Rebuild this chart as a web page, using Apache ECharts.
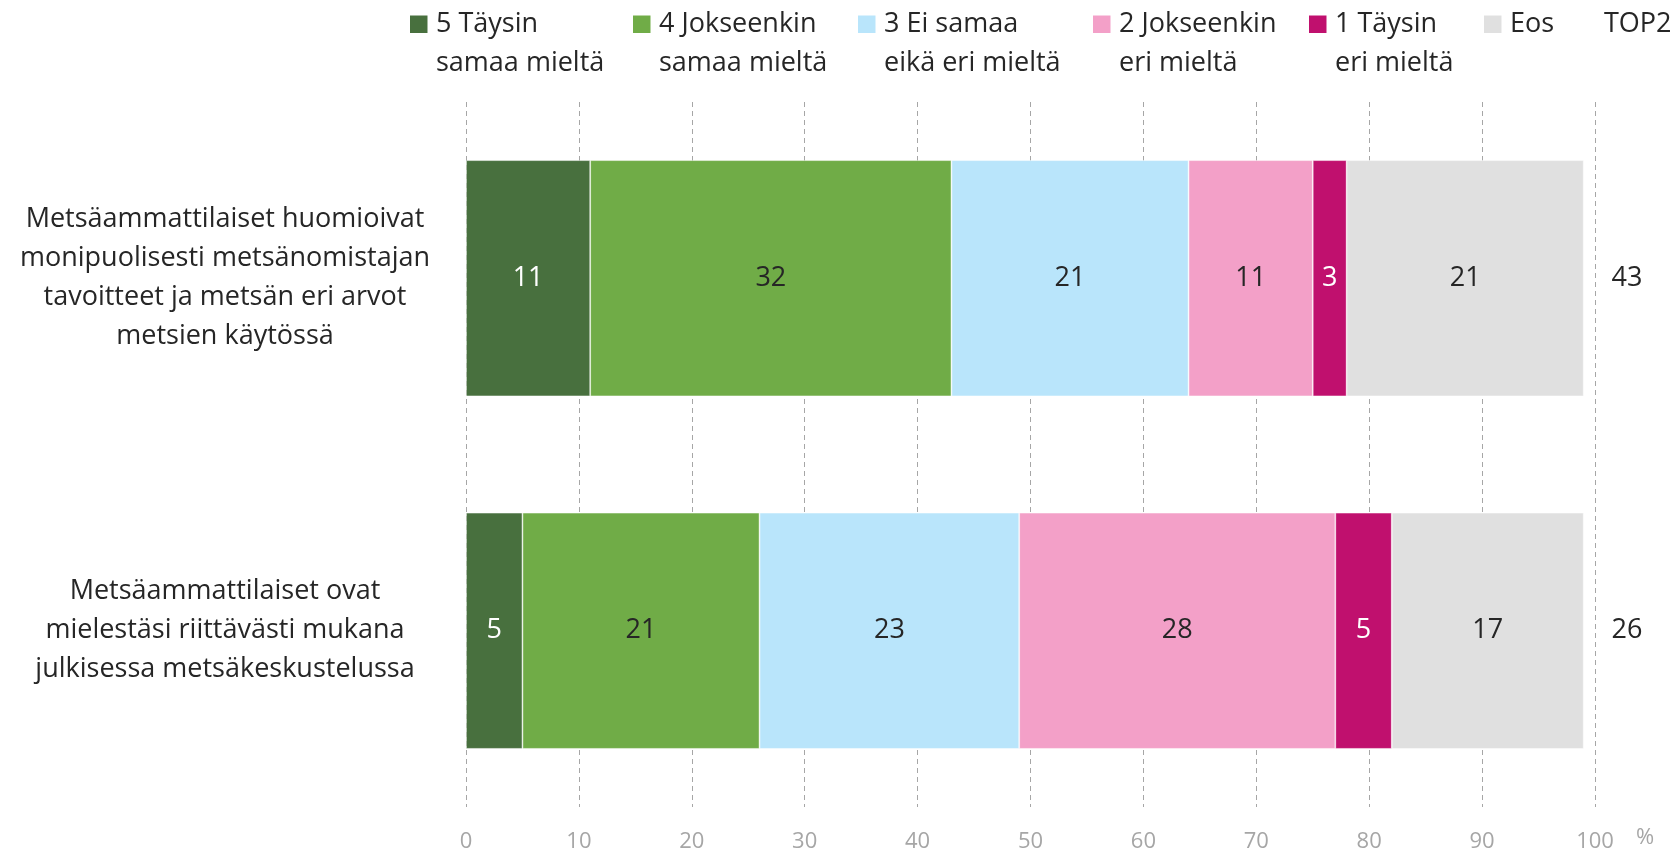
<!DOCTYPE html>
<html>
<head>
<meta charset="utf-8">
<script src="https://cdn.jsdelivr.net/npm/echarts@6/dist/echarts.min.js"></script>
<style>
  html, body { margin: 0; padding: 0; background: #ffffff; }
  #chart { width: 1675px; height: 853px; }
</style>
</head>
<body>
<div id="chart"></div>
<script>
// Väittämät (kategoriat), ylhäältä alas
const categories = [
  'Metsäammattilaiset huomioivat\nmonipuolisesti metsänomistajan\ntavoitteet ja metsän eri arvot\nmetsien käytössä',
  'Metsäammattilaiset ovat\nmielestäsi riittävästi mukana\njulkisessa metsäkeskustelussa'
];

// Vastausvaihtoehdot
const seriesNames = [
  '5 Täysin\nsamaa mieltä',
  '4 Jokseenkin\nsamaa mieltä',
  '3 Ei samaa\neikä eri mieltä',
  '2 Jokseenkin\neri mieltä',
  '1 Täysin\neri mieltä',
  'Eos'
];

// Osuudet (%) väittämittäin
const taysinSamaa     = [11, 5];
const jokseenkinSamaa = [32, 21];
const eiSamaaEiEri    = [21, 23];
const jokseenkinEri   = [11, 28];
const taysinEri       = [3, 5];
const eos             = [21, 17];

// TOP2 = 5 + 4
const top2 = [43, 26];

const seriesValues = [taysinSamaa, jokseenkinSamaa, eiSamaaEiEri, jokseenkinEri, taysinEri, eos];
const colors = ['#48703e', '#70ac47', '#b9e5fb', '#f3a0c8', '#c0106e', '#e0e0e0'];
const labelColors = ['#ffffff', '#262626', '#262626', '#262626', '#ffffff', '#262626'];

const FONT = '"Open Sans", Lato, sans-serif';
const TEXT = '#262626';
const GREY = '#a6a6a6';
const FS = 27;

// Selitteen sijainnit (vasen reuna, px)
const legendX = [410, 633, 858, 1093, 1309, 1484];

const legendGraphics = [];
seriesNames.forEach((name, i) => {
  legendGraphics.push({
    type: 'rect',
    shape: { x: legendX[i], y: 15.5, width: 17.5, height: 17.5 },
    style: { fill: colors[i] },
    silent: true
  });
  legendGraphics.push({
    type: 'text',
    x: legendX[i] + 26,
    y: 4.5,
    style: {
      text: name,
      font: FS + 'px ' + FONT,
      fill: TEXT,
      lineHeight: 39,
      verticalAlign: 'top',
      align: 'left'
    },
    silent: true
  });
});
legendGraphics.push({
  type: 'text', x: 1604, y: 4.5,
  style: { text: 'TOP2', font: FS + 'px ' + FONT, fill: TEXT, lineHeight: 39, verticalAlign: 'top', align: 'left' },
  silent: true
});
legendGraphics.push({
  type: 'text', x: 1645, y: 838,
  style: { text: '%', font: '22px ' + FONT, fill: GREY, verticalAlign: 'middle', align: 'center' },
  silent: true
});

const chart = echarts.init(document.getElementById('chart'), null, { renderer: 'canvas' });

chart.setOption({
  animation: false,
  backgroundColor: '#ffffff',
  textStyle: { fontFamily: FONT },
  grid: { left: 466, right: 80, top: 102, bottom: 45, containLabel: false },
  xAxis: {
    type: 'value',
    min: 0,
    max: 100,
    interval: 10,
    axisLine: { show: false },
    axisTick: { show: false },
    splitLine: { show: true, lineStyle: { color: GREY, type: [5, 4], width: 1 } },
    axisLabel: { color: GREY, fontSize: 22, lineHeight: 22, margin: 24, fontFamily: FONT }
  },
  yAxis: [
    {
      type: 'category',
      data: categories,
      inverse: true,
      axisLine: { show: false },
      axisTick: { show: false },
      axisLabel: {
        align: 'center',
        margin: 241,
        color: TEXT,
        fontSize: FS,
        lineHeight: 39,
        fontFamily: FONT
      }
    },
    {
      type: 'category',
      data: top2.map(String),
      inverse: true,
      position: 'right',
      axisLine: { show: false },
      axisTick: { show: false },
      axisLabel: {
        align: 'center',
        margin: 32,
        color: TEXT,
        fontSize: FS,
        fontFamily: FONT
      }
    }
  ],
  series: seriesNames.map((name, i) => ({
    name: name,
    type: 'bar',
    stack: 'total',
    yAxisIndex: 0,
    barCategoryGap: '33%',
    data: seriesValues[i],
    itemStyle: { color: colors[i], borderColor: 'rgba(255,255,255,0.6)', borderWidth: 0.8 },
    label: {
      show: true,
      position: 'inside',
      color: labelColors[i],
      fontSize: FS,
      fontFamily: FONT
    }
  })),
  graphic: legendGraphics
});
</script>
</body>
</html>
